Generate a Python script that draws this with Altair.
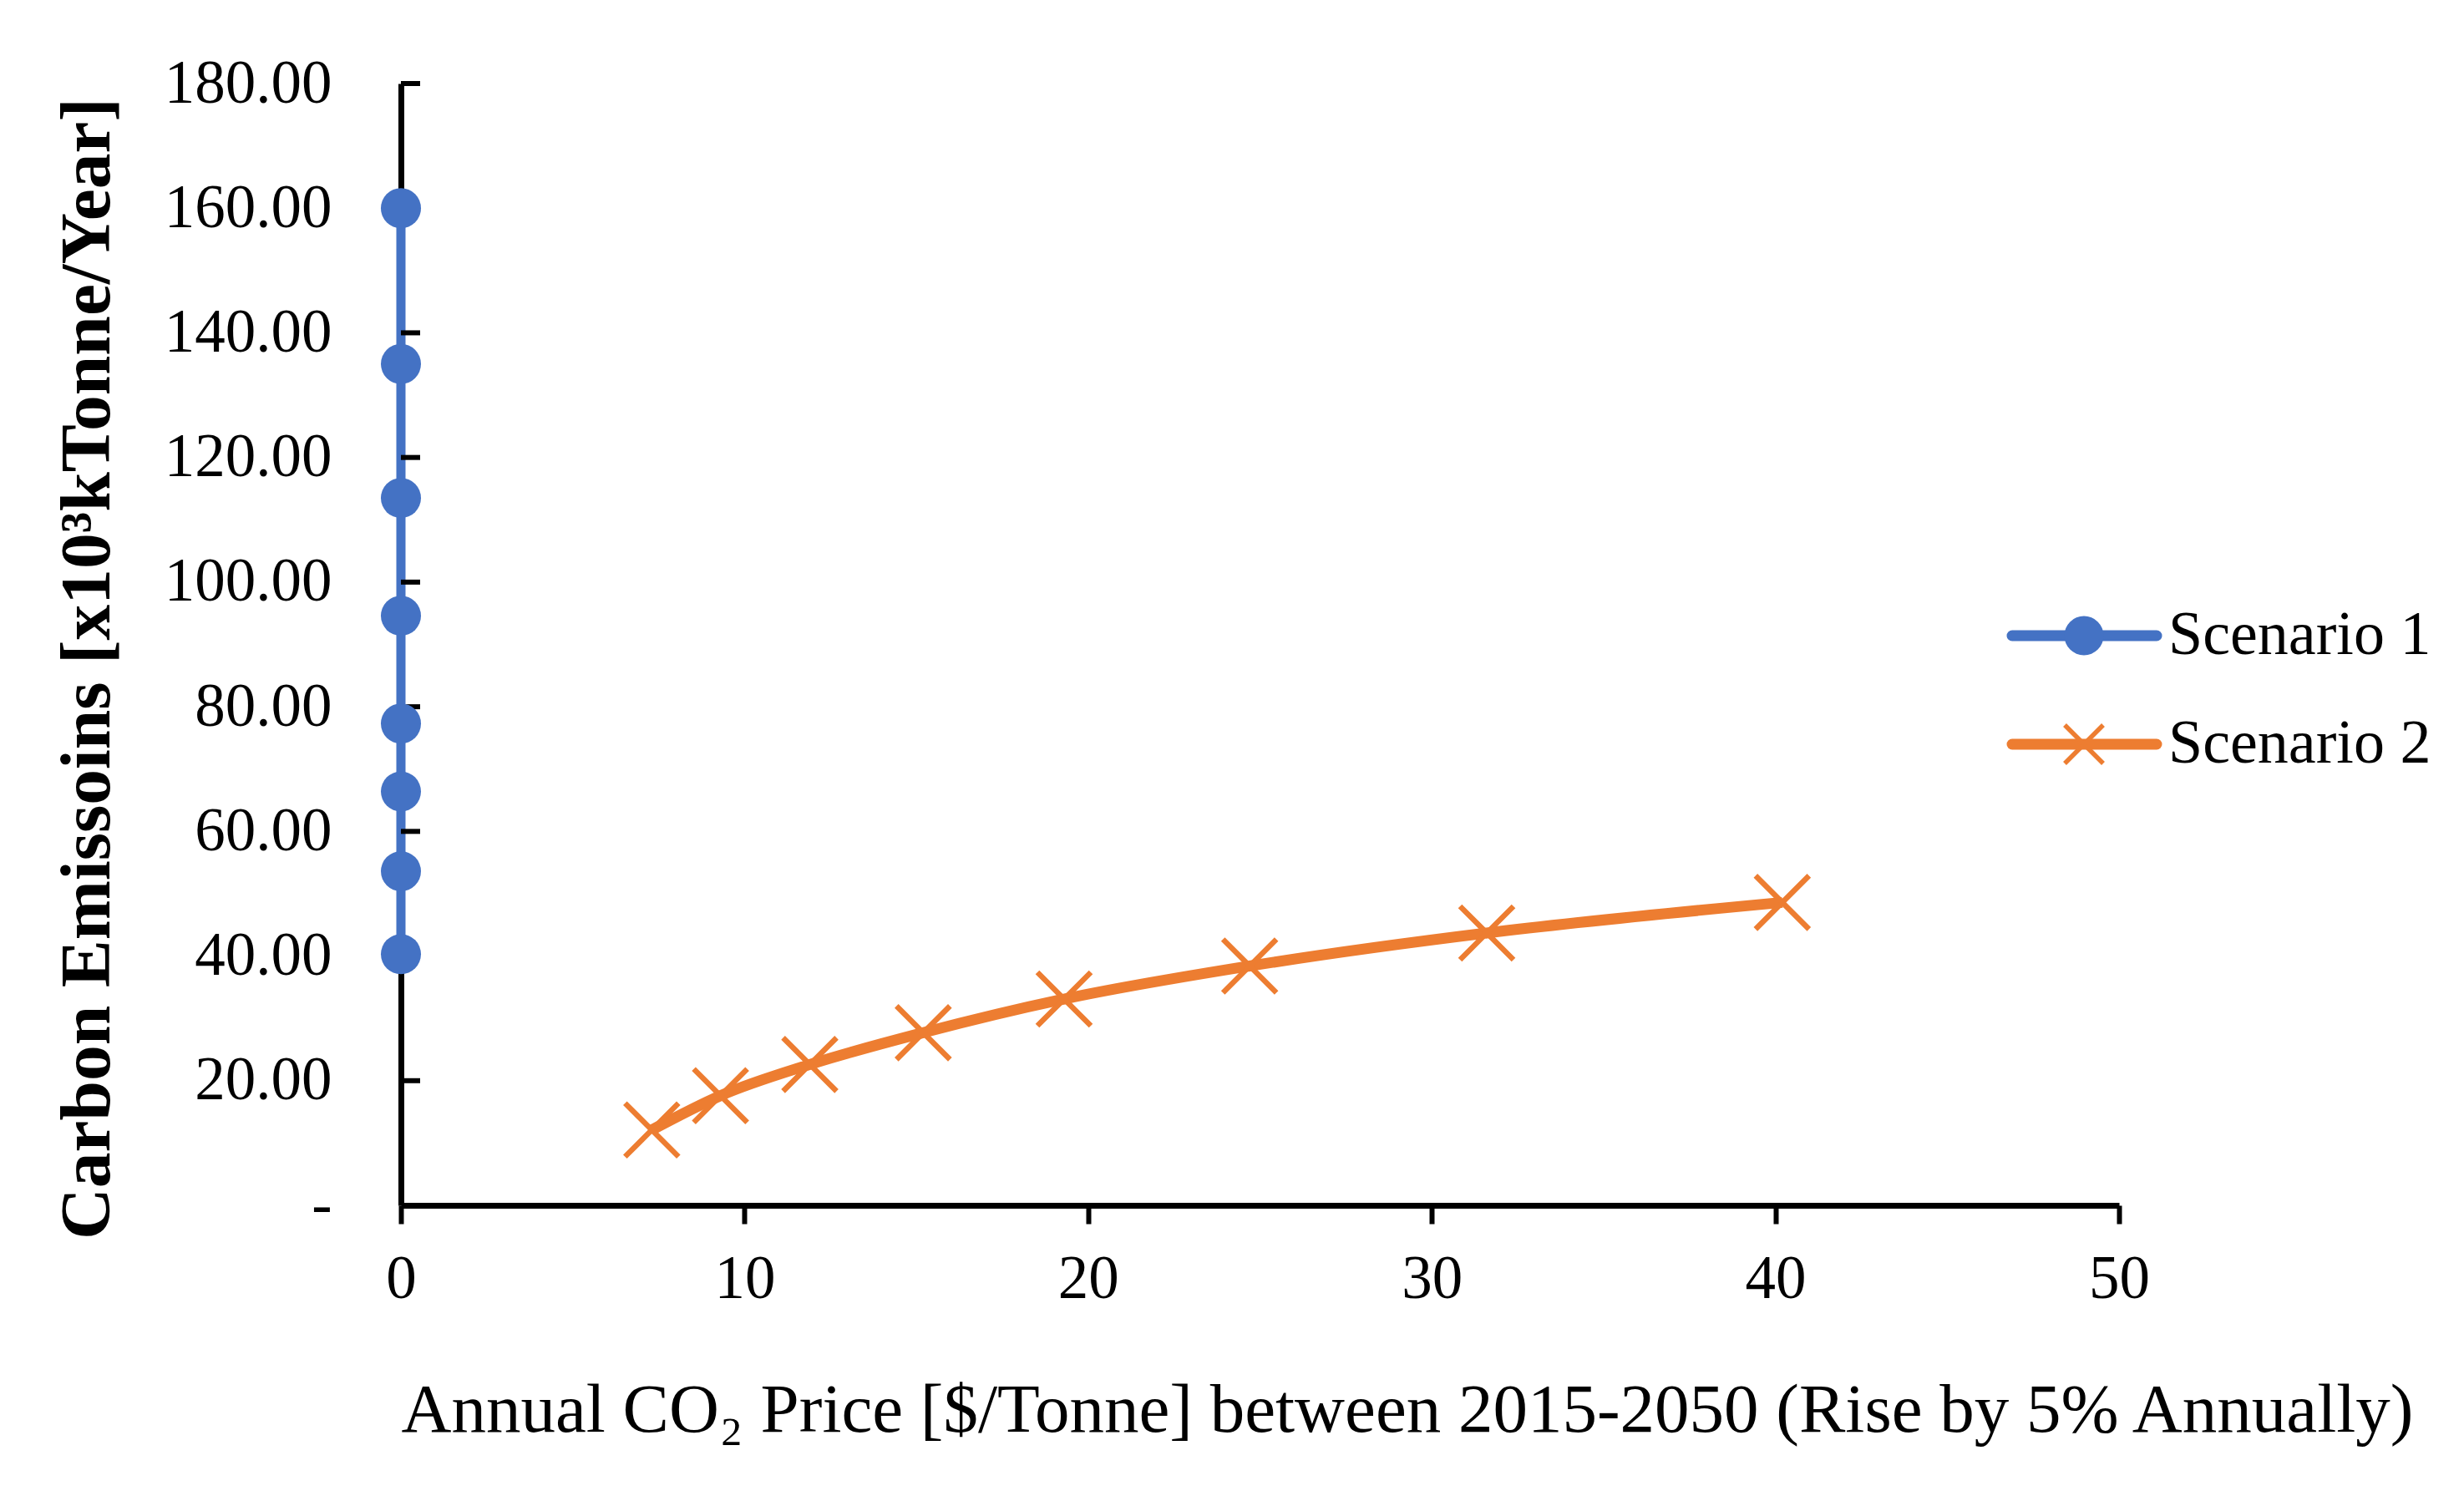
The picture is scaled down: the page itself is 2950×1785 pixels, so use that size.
import altair as alt
import pandas as pd

# ---- data ----
scenarios = ["Scenario 1", "Scenario 2"]
colors = ["#4472C4", "#ED7D31"]

s1_price = [0, 0, 0, 0, 0, 0, 0, 0]
s1_emis = [160.0, 135.0, 113.5, 94.6, 77.3, 66.4, 53.6, 40.3]

s2_price = [7.3, 9.3, 11.9, 15.2, 19.3, 24.7, 31.6, 40.2]
s2_emis = [12.1, 17.6, 22.6, 27.7, 33.1, 38.4, 43.7, 48.6]

y_ticks = [0, 20, 40, 60, 80, 100, 120, 140, 160, 180]
x_ticks = [0, 10, 20, 30, 40, 50]

x_title = "Annual CO\u2082 Price [$/Tonne] between 2015-2050 (Rise by 5% Annually)"
y_title = "Carbon Emissoins [x10\u00b3kTonne/Year]"

FONT = "Liberation Serif"
W, H = 2057, 1343

df1 = pd.DataFrame({"price": s1_price, "emis": s1_emis, "scenario": scenarios[0],
                    "ord": list(range(len(s1_price)))})
df2 = pd.DataFrame({"price": s2_price, "emis": s2_emis, "scenario": scenarios[1],
                    "ord": list(range(len(s2_price)))})
ticks_df = pd.DataFrame({"v": [v for v in y_ticks if v != 0]})

xscale = alt.Scale(domain=[x_ticks[0], x_ticks[-1]], nice=False, zero=False)
yscale = alt.Scale(domain=[y_ticks[0], y_ticks[-1]], nice=False)

xaxis = alt.Axis(values=x_ticks, title=x_title, grid=False,
                 domainColor="black", domainWidth=7,
                 tickColor="black", tickWidth=6, tickSize=22,
                 labelFont=FONT, labelFontSize=73, labelColor="black", labelPadding=30,
                 labelFlush=False, labelLimit=0,
                 titleFont=FONT, titleFontSize=83, titleFontWeight="normal", titleColor="black",
                 titleAnchor="start", titleAlign="left", titleBaseline="alphabetic",
                 titleX=0, titleY=270, titleLimit=0)
yaxis = alt.Axis(values=y_ticks, title=y_title, grid=False, ticks=False,
                 domainColor="black", domainWidth=7,
                 labelFont=FONT, labelFontSize=73, labelColor="black", labelPadding=83,
                 labelExpr="datum.value == 0 ? '-\u00a0\u00a0' : format(datum.value, '.2f')",
                 labelFlush=False, labelLimit=0,
                 titleFont=FONT, titleFontSize=85.5, titleFontWeight="bold", titleColor="black",
                 titleAngle=270, titleAlign="center", titleBaseline="alphabetic",
                 titleX=-350, titleY=700, titleLimit=0)

X = alt.X("price:Q", scale=xscale, axis=xaxis)
Y = alt.Y("emis:Q", scale=yscale, axis=yaxis)

line1 = alt.Chart(df1).mark_line(color=colors[0], strokeWidth=11).encode(
    x=X, y=Y, order="ord:Q")
pts1 = alt.Chart(df1).mark_point(shape="circle", filled=True, opacity=1,
                                 color=colors[0], size=2304).encode(x=X, y=Y)

line2 = alt.Chart(df2).mark_line(color=colors[1], strokeWidth=13,
                                 interpolate="monotone").encode(x=X, y=Y, order="ord:Q")
XPATH = "M-1,-1L1,1M-1,1L1,-1"
pts2 = alt.Chart(df2).mark_point(shape=XPATH, filled=False, opacity=1,
                                 color=colors[1], strokeWidth=6.5, size=4096).encode(x=X, y=Y)

inner_ticks = alt.Chart(ticks_df).mark_rule(color="black", strokeWidth=6).encode(
    y=alt.Y("v:Q", scale=yscale, axis=yaxis), x=alt.value(0), x2=alt.value(23))

# ---- legend (drawn as marks at the right of the plot) ----
legend_rows = [661, 791]
leg_shapes = ["circle", XPATH]
leg_filled = [True, False]
leg_sizes = [2209, 2116]
legend_layers = []
for i, name in enumerate(scenarios):
    ldf = pd.DataFrame({"name": [name]})
    legend_layers.append(alt.Chart(ldf).mark_rule(color=colors[i], strokeWidth=13,
                                                  strokeCap="round").encode(
        x=alt.value(1929), x2=alt.value(2102), y=alt.value(legend_rows[i])))
    legend_layers.append(alt.Chart(ldf).mark_point(shape=leg_shapes[i], filled=leg_filled[i],
                                                   opacity=1, color=colors[i], strokeWidth=5.5,
                                                   size=leg_sizes[i]).encode(
        x=alt.value(2015), y=alt.value(legend_rows[i])))
    legend_layers.append(alt.Chart(ldf).mark_text(align="left", baseline="middle", font=FONT,
                                                  fontSize=74, color="black").encode(
        x=alt.value(2116), y=alt.value(legend_rows[i]), text="name:N"))

chart = alt.layer(line1, line2, inner_ticks, pts1, pts2, *legend_layers).properties(
    width=W, height=H,
    autosize=alt.AutoSizeParams(type="none"),
    padding={"left": 472, "top": 92, "right": 400, "bottom": 320},
    background="white",
).configure_view(stroke=None)

chart.save("out.html", embed_options={"renderer": "svg", "actions": False})
